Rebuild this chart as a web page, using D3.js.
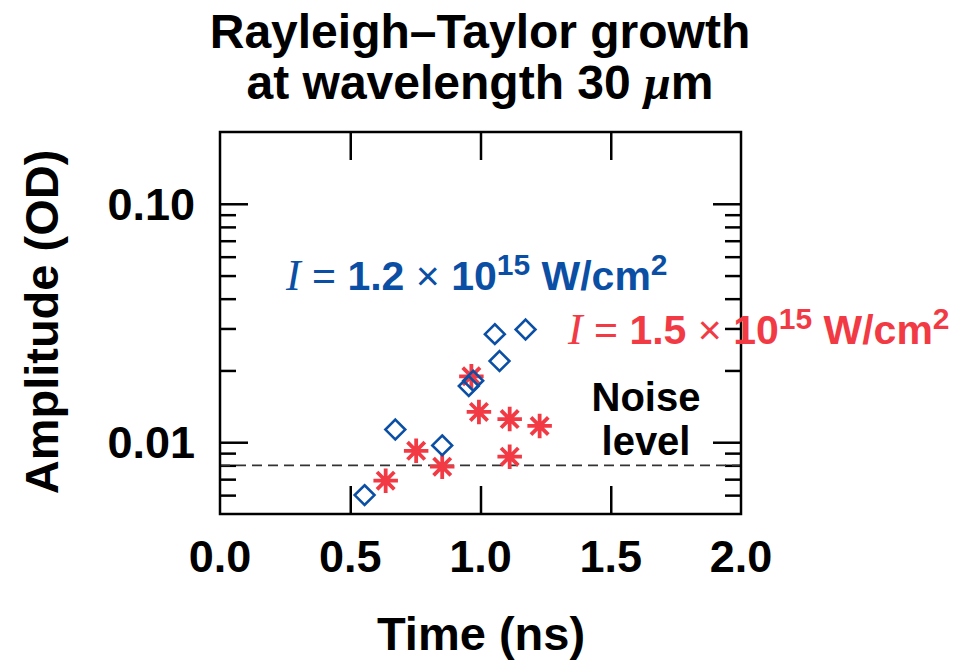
<!DOCTYPE html>
<html>
<head>
<meta charset="utf-8">
<script src="https://cdn.jsdelivr.net/npm/d3@7"></script>
<style>
  body { margin: 0; background: #fff; }
  svg text { font-family: "Liberation Sans", Arial, Helvetica, sans-serif; font-weight: bold; }
</style>
</head>
<body>
<div id="chart"></div>
<script>
// values
const blue_time = [0.555, 0.673, 0.853, 0.955, 0.972, 1.055, 1.073, 1.173];
const blue_amp  = [0.0060, 0.0113, 0.0097, 0.0172, 0.0181, 0.0284, 0.0219, 0.0297];

const red_time = [0.636, 0.753, 0.853, 0.965, 0.994, 1.112, 1.112, 1.227];
const red_amp  = [0.0069, 0.0092, 0.0079, 0.0189, 0.0134, 0.0125, 0.0087, 0.0117];

const noise_level = 0.008;

const x_ticks = [0.0, 0.5, 1.0, 1.5, 2.0];
const x_tick_labels = ["0.0", "0.5", "1.0", "1.5", "2.0"];
const y_major = [0.01, 0.1];
const y_major_labels = ["0.01", "0.10"];
const y_minor = [0.006, 0.007, 0.008, 0.009, 0.02, 0.03, 0.04, 0.05, 0.06, 0.07, 0.08, 0.09];

const blue = "#0b4fa5";
const red = "#f23a45";

let width = 973, height = 662;
let margin = {left: 220, top: 132, right: 232, bottom: 148};
let plot_w = width - margin.left - margin.right;
let plot_h = height - margin.top - margin.bottom;

let svg = d3.select("#chart").append("svg")
    .attr("width", width)
    .attr("height", height);

let chart = svg.append("g")
    .attr("transform", "translate(" + margin.left + "," + margin.top + ")");

let xScale = d3.scaleLinear().domain([0, 2]).range([0, plot_w]);
let yScale = d3.scaleLog().domain([0.005, 0.2]).range([plot_h, 0]);

// ticks pointing inward on all four sides
function tick_style(g, w) {
    g.select(".domain").remove();
    g.selectAll(".tick line").attr("stroke", "#000").attr("stroke-width", w);
    g.selectAll(".tick text").remove();
}

chart.append("g")
    .attr("transform", "translate(0," + plot_h + ")")
    .call(d3.axisBottom(xScale).tickValues([0.5, 1.0, 1.5]).tickSize(-28))
    .call(tick_style, 2.5);
chart.append("g")
    .call(d3.axisTop(xScale).tickValues([0.5, 1.0, 1.5]).tickSize(-28))
    .call(tick_style, 2.5);

chart.append("g")
    .call(d3.axisLeft(yScale).tickValues(y_major).tickSize(-28))
    .call(tick_style, 2.5);
chart.append("g")
    .call(d3.axisLeft(yScale).tickValues(y_minor).tickSize(-16))
    .call(tick_style, 2.5);
chart.append("g")
    .attr("transform", "translate(" + plot_w + ",0)")
    .call(d3.axisRight(yScale).tickValues(y_major).tickSize(-28))
    .call(tick_style, 2.5);
chart.append("g")
    .attr("transform", "translate(" + plot_w + ",0)")
    .call(d3.axisRight(yScale).tickValues(y_minor).tickSize(-16))
    .call(tick_style, 2.5);

// tick labels
chart.selectAll(".xlab")
    .data(x_ticks)
    .enter()
    .append("text")
    .attr("class", "xlab")
    .attr("x", function(d) { return xScale(d); })
    .attr("y", plot_h + 58)
    .attr("text-anchor", "middle")
    .attr("font-size", "45px")
    .text(function(d, i) { return x_tick_labels[i]; });

chart.selectAll(".ylab")
    .data(y_major)
    .enter()
    .append("text")
    .attr("class", "ylab")
    .attr("x", -25)
    .attr("y", function(d) { return yScale(d) + 16; })
    .attr("text-anchor", "end")
    .attr("font-size", "45px")
    .text(function(d, i) { return y_major_labels[i]; });

// noise level
chart.append("line")
    .attr("x1", 0)
    .attr("x2", plot_w)
    .attr("y1", yScale(noise_level))
    .attr("y2", yScale(noise_level))
    .attr("stroke", "#333")
    .attr("stroke-width", 1.6)
    .attr("stroke-dasharray", "10,6");

// frame
chart.append("rect")
    .attr("x", 0)
    .attr("y", 0)
    .attr("width", plot_w)
    .attr("height", plot_h)
    .attr("fill", "none")
    .attr("stroke", "#000")
    .attr("stroke-width", 2.5);

// markers
let asterisk = {
    draw: function(ctx, size) {
        let r = Math.sqrt(size) / 2;
        let d = r * Math.SQRT1_2;
        ctx.moveTo(0, -r); ctx.lineTo(0, r);
        ctx.moveTo(-r, 0); ctx.lineTo(r, 0);
        ctx.moveTo(-d, -d); ctx.lineTo(d, d);
        ctx.moveTo(-d, d); ctx.lineTo(d, -d);
    }
};

chart.selectAll(".red_pt")
    .data(red_time)
    .enter()
    .append("path")
    .attr("class", "red_pt")
    .attr("transform", function(d, i) {
        return "translate(" + xScale(d) + "," + yScale(red_amp[i]) + ")";
    })
    .attr("d", d3.symbol().type(asterisk).size(600))
    .attr("fill", "none")
    .attr("stroke", red)
    .attr("stroke-width", 3.8);

chart.selectAll(".blue_pt")
    .data(blue_time)
    .enter()
    .append("path")
    .attr("class", "blue_pt")
    .attr("transform", function(d, i) {
        return "translate(" + xScale(d) + "," + yScale(blue_amp[i]) + ")";
    })
    .attr("d", d3.symbol().type(d3.symbolDiamond2).size(250))
    .attr("fill", "none")
    .attr("stroke", blue)
    .attr("stroke-width", 2.6);

// intensity labels
function intensity_label(x, y, color, value) {
    let t = svg.append("text")
        .attr("x", x)
        .attr("y", y)
        .attr("fill", color)
        .attr("font-size", "41px");
    t.append("tspan")
        .attr("font-family", "'Liberation Serif', 'Times New Roman', serif")
        .attr("font-style", "italic")
        .attr("font-weight", "normal")
        .attr("font-size", "44px")
        .text("I");
    t.append("tspan").attr("font-weight", "normal").text(" = ");
    t.append("tspan").text(value + " ");
    t.append("tspan").attr("font-weight", "normal").text("\u00d7");
    t.append("tspan").text(" 10");
    t.append("tspan").attr("font-size", "30px").attr("dy", -15).text("15");
    t.append("tspan").attr("dy", 15).text(" W/cm");
    t.append("tspan").attr("font-size", "30px").attr("dy", -15).text("2");
}

intensity_label(286, 290, blue, "1.2");
intensity_label(568, 344, red, "1.5");

svg.append("text")
    .attr("x", 646)
    .attr("y", 411)
    .attr("text-anchor", "middle")
    .attr("font-size", "40px")
    .text("Noise");
svg.append("text")
    .attr("x", 646)
    .attr("y", 455)
    .attr("text-anchor", "middle")
    .attr("font-size", "40px")
    .text("level");

// titles
let title = svg.append("text")
    .attr("x", 480)
    .attr("text-anchor", "middle")
    .attr("font-size", "48px");
title.append("tspan").attr("x", 480).attr("y", 48).text("Rayleigh\u2013Taylor growth");
let line2 = title.append("tspan").attr("x", 480).attr("y", 99);
line2.append("tspan").text("at wavelength 30 ");
line2.append("tspan")
    .attr("font-family", "'Liberation Serif', 'Times New Roman', serif")
    .attr("font-style", "italic")
    .text("\u03bc");
line2.append("tspan").text("m");

svg.append("text")
    .attr("x", 481)
    .attr("y", 650)
    .attr("text-anchor", "middle")
    .attr("font-size", "47px")
    .text("Time (ns)");

svg.append("text")
    .attr("transform", "translate(58,322) rotate(-90)")
    .attr("text-anchor", "middle")
    .attr("font-size", "47px")
    .text("Amplitude (OD)");
</script>
</body>
</html>
